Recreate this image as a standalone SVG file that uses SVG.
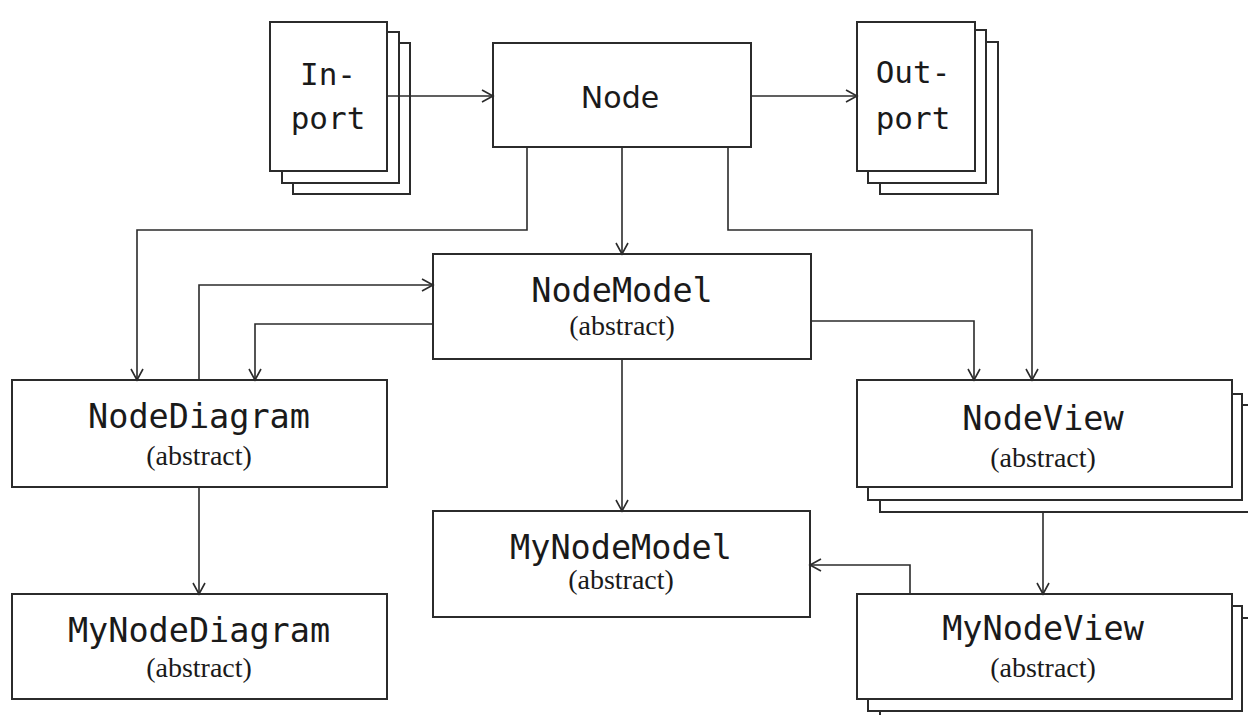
<svg xmlns="http://www.w3.org/2000/svg" width="1248" height="715" viewBox="0 0 1248 715">
<style>
.box{fill:#fff;stroke:#2b2b2b;stroke-width:2}
.mono{font-family:"DejaVu Sans Mono","Liberation Mono",monospace;font-size:33.5px;fill:#1a1a1a;text-anchor:middle}
.port{font-family:"DejaVu Sans Mono","Liberation Mono",monospace;font-size:31px;fill:#1a1a1a;text-anchor:middle}
.abs{font-family:"Liberation Serif","Times New Roman",serif;font-size:28px;fill:#1a1a1a;text-anchor:middle}
.sans{font-family:"DejaVu Sans","Liberation Sans",sans-serif;font-size:30px;fill:#1a1a1a;text-anchor:middle}
.conn{fill:none;stroke:#2b2b2b;stroke-width:1.6}
</style>
<defs>
<marker id="arr" markerUnits="userSpaceOnUse" markerWidth="14" markerHeight="14" viewBox="0 0 14 14" refX="12" refY="7" orient="auto">
<path d="M1,1 L12,7 L1,13" fill="none" stroke="#2b2b2b" stroke-width="1.6"/>
</marker>
</defs>
<rect width="1248" height="715" fill="#fff"/>
<g id="inport">
<rect class="box" x="293" y="43" width="117" height="151"/>
<rect class="box" x="282" y="32" width="117" height="151"/>
<rect class="box" x="270" y="22" width="117" height="149"/>
<text class="port" x="328" y="85">In-</text>
<text class="port" x="328" y="129">port</text>
</g>
<g id="node">
<rect class="box" x="493" y="43" width="258" height="104"/>
<text class="sans" x="620" y="108">Node</text>
</g>
<g id="outport">
<rect class="box" x="880" y="42" width="118" height="152"/>
<rect class="box" x="868" y="30" width="118" height="153"/>
<rect class="box" x="857" y="22" width="118" height="149"/>
<text class="port" x="913" y="83">Out-</text>
<text class="port" x="913" y="129">port</text>
</g>
<g id="nodemodel">
<rect class="box" x="433" y="254" width="378" height="105"/>
<text class="mono" x="622" y="302">NodeModel</text>
<text class="abs" x="622" y="335">(abstract)</text>
</g>
<g id="nodediagram">
<rect class="box" x="12" y="380" width="375" height="107"/>
<text class="mono" x="199" y="428">NodeDiagram</text>
<text class="abs" x="199" y="465">(abstract)</text>
</g>
<g id="nodeview">
<rect class="box" x="880" y="405" width="380" height="107"/>
<rect class="box" x="868" y="394" width="374" height="106"/>
<rect class="box" x="857" y="380" width="375" height="107"/>
<text class="mono" x="1043" y="430">NodeView</text>
<text class="abs" x="1043" y="467">(abstract)</text>
</g>
<g id="mynodemodel">
<rect class="box" x="433" y="511" width="377" height="106"/>
<text class="mono" x="621" y="559">MyNodeModel</text>
<text class="abs" x="621" y="589">(abstract)</text>
</g>
<g id="mynodediagram">
<rect class="box" x="12" y="594" width="375" height="105"/>
<text class="mono" x="199" y="642">MyNodeDiagram</text>
<text class="abs" x="199" y="677">(abstract)</text>
</g>
<g id="mynodeview">
<rect class="box" x="880" y="618" width="380" height="110"/>
<rect class="box" x="868" y="606" width="374" height="105"/>
<rect class="box" x="857" y="594" width="375" height="105"/>
<text class="mono" x="1043" y="640">MyNodeView</text>
<text class="abs" x="1043" y="677">(abstract)</text>
</g>
<g id="connectors">
<path class="conn" d="M387,96 L493,96" marker-end="url(#arr)"/>
<path class="conn" d="M751,96 L857,96" marker-end="url(#arr)"/>
<path class="conn" d="M622,147 L622,254" marker-end="url(#arr)"/>
<path class="conn" d="M527,147 L527,230 L137,230 L137,380" marker-end="url(#arr)"/>
<path class="conn" d="M728,147 L728,230 L1032,230 L1032,380" marker-end="url(#arr)"/>
<path class="conn" d="M199,380 L199,285 L433,285" marker-end="url(#arr)"/>
<path class="conn" d="M433,324 L255,324 L255,380" marker-end="url(#arr)"/>
<path class="conn" d="M811,321 L974,321 L974,380" marker-end="url(#arr)"/>
<path class="conn" d="M622,359 L622,511" marker-end="url(#arr)"/>
<path class="conn" d="M199,487 L199,594" marker-end="url(#arr)"/>
<path class="conn" d="M1043,512 L1043,594" marker-end="url(#arr)"/>
<path class="conn" d="M910,594 L910,565 L810,565" marker-end="url(#arr)"/>
</g>
</svg>
